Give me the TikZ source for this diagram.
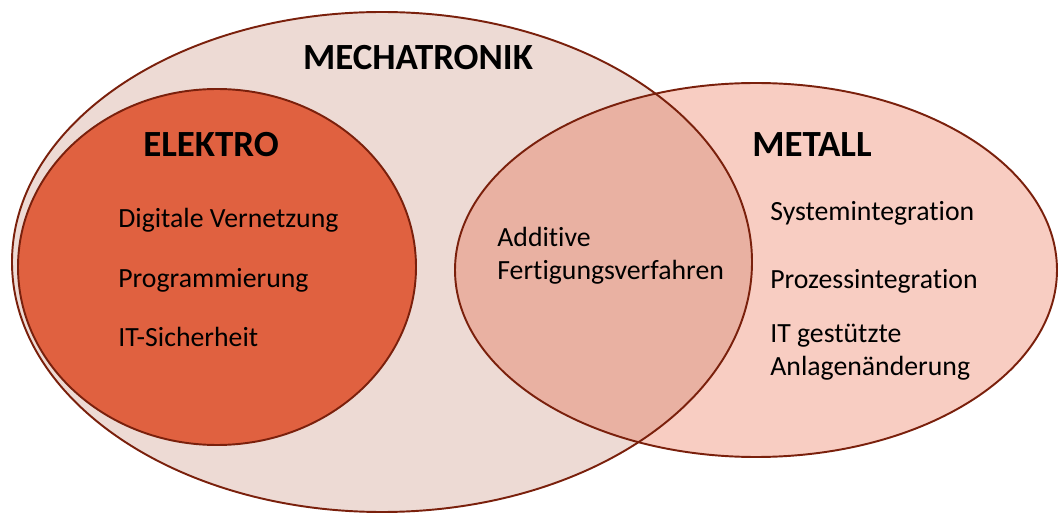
\documentclass[tikz,border=0pt]{standalone}
\usepackage{fontspec}
\setmainfont[Ligatures=NoCommon]{Carlito}
\definecolor{mechfill}{HTML}{EDDAD4}
\definecolor{elekfill}{HTML}{E06140}
\definecolor{metfill}{HTML}{F8CDC2}
\definecolor{overlapfill}{HTML}{E9B1A2}
\definecolor{rim}{HTML}{7A200C}
\begin{document}
\begin{tikzpicture}[x=0.02cm,y=-0.02cm,
	rimline/.style={draw=rim, line width=1.1pt},
	title/.style={font=\bfseries\fontsize{21}{25}\selectfont, inner sep=0pt},
	item/.style={anchor=west, align=left, inner sep=0pt, font=\fontsize{15.8}{18.7}\selectfont}]
		\useasboundingbox (0,0) rectangle (1059,513);
		% Mechatronik and Metall areas, overlap filled darker
		\fill[mechfill] (382,262) ellipse (370 and 250);
		\fill[metfill] (756,270) ellipse (301 and 187);
		\begin{scope}
			\clip (382,262) ellipse (370 and 250);
			\fill[overlapfill] (756,270) ellipse (301 and 187);
		\end{scope}
		\draw[rimline] (382,262) ellipse (370 and 250);
		\draw[rimline] (756,270) ellipse (301 and 187);
		% Elektro on top
		\draw[rimline, fill=elekfill] (217,267) ellipse (199 and 178);
		
		\path (418,58) node[title](mech){MECHATRONIK}
		(211,145) node[title](elektro){ELEKTRO}
		(812,145) node[title](metall){METALL};
		\path (118,220) node[item](digital){Digitale Vernetzung}
		(118,280) node[item](prog){Programmierung}
		(118,337) node[item](itsec){IT-Sicherheit};
		\path (497,256) node[item](additive){Additive\\Fertigungsverfahren};
		\path (770,213) node[item](system){Systemintegration}
		(770,281) node[item](prozess){Prozessintegration}
		(770,352) node[item](anlage){IT gestützte\\Anlagenänderung};
	\end{tikzpicture}
\end{document}
